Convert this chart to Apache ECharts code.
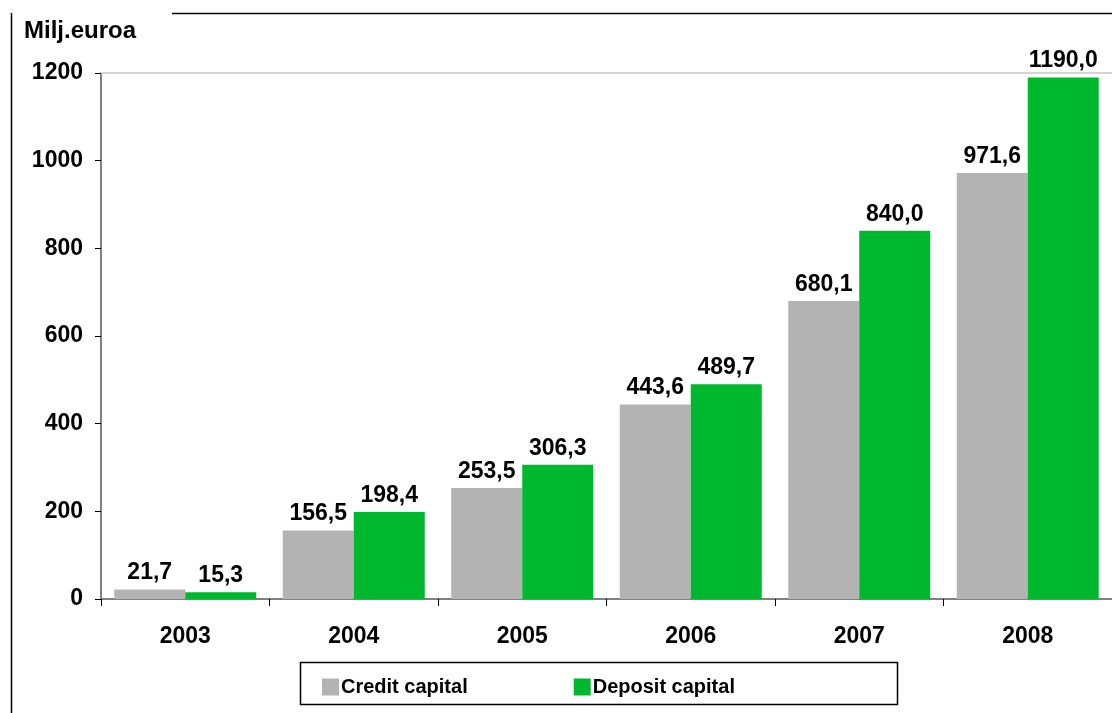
<!DOCTYPE html>
<html>
<head>
<meta charset="utf-8">
<script src="https://cdn.jsdelivr.net/npm/echarts@6/dist/echarts.min.js"></script>
<style>
html,body{margin:0;padding:0;background:#fff;}
#chart{width:1112px;height:713px;}
</style>
</head>
<body>
<div id="chart"></div>
<script>
const categories = ['2003', '2004', '2005', '2006', '2007', '2008'];
const creditCapital = [21.7, 156.5, 253.5, 443.6, 680.1, 971.6];
const depositCapital = [15.3, 198.4, 306.3, 489.7, 840.0, 1190.0];
const seriesNames = ['Credit capital', 'Deposit capital'];
const yTicks = { min: 0, max: 1200, interval: 200 };
const unitLabel = 'Milj.euroa';

const FONT = '"Liberation Sans", Arial, sans-serif';
const fmt = v => v.toFixed(1).replace('.', ',');

const chart = echarts.init(document.getElementById('chart'), null, { renderer: 'canvas' });
chart.setOption({
  animation: false,
  backgroundColor: '#ffffff',
  textStyle: { fontFamily: FONT },
  title: {
    text: unitLabel,
    left: 19, top: 14,
    textStyle: { fontFamily: FONT, fontWeight: 'bold', fontSize: 24, color: '#000' }
  },
  grid: { left: 101, right: 0, top: 73, bottom: 114, containLabel: false },
  legend: {
    left: 317, top: 672,
    itemWidth: 17, itemHeight: 17,
    itemGap: 106,
    icon: 'rect',
    textStyle: { fontFamily: FONT, fontWeight: 'bold', fontSize: 20, color: '#000', padding: [0, 0, 0, -3] },
    data: seriesNames
  },
  xAxis: [{
    type: 'category',
    data: categories,
    position: 'bottom',
    axisLine: { lineStyle: { color: '#808080', width: 2 } },
    axisTick: { show: true, length: 7, lineStyle: { color: '#000', width: 1 } },
    axisLabel: { margin: 26, fontFamily: FONT, fontWeight: 'bold', fontSize: 23, color: '#000' }
  }, {
    type: 'category',
    data: categories,
    position: 'top',
    axisLine: { lineStyle: { color: '#d4d4d4', width: 2 } },
    axisTick: { show: false },
    axisLabel: { show: false }
  }],
  yAxis: {
    type: 'value',
    min: yTicks.min, max: yTicks.max, interval: yTicks.interval,
    axisLine: { show: true, lineStyle: { color: '#808080', width: 2 } },
    axisTick: { show: true, length: 6, lineStyle: { color: '#000', width: 1 } },
    splitLine: { show: false },
    axisLabel: { margin: 18, formatter: v => String(v), fontFamily: FONT, fontWeight: 'bold', fontSize: 23, color: '#000' }
  },
  series: [{
    name: seriesNames[0],
    type: 'bar',
    data: creditCapital,
    barWidth: 71,
    barGap: '0%',
    itemStyle: { color: '#b3b3b3' },
    label: { show: true, position: 'top', distance: 5, formatter: p => fmt(p.value),
      fontFamily: FONT, fontWeight: 'bold', fontSize: 23, color: '#000' }
  }, {
    name: seriesNames[1],
    type: 'bar',
    data: depositCapital,
    barWidth: 71,
    barGap: '0%',
    itemStyle: { color: '#00b82e' },
    label: { show: true, position: 'top', distance: 5, formatter: p => fmt(p.value),
      fontFamily: FONT, fontWeight: 'bold', fontSize: 23, color: '#000' }
  }],
  graphic: [
    { type: 'line', shape: { x1: 172, y1: 13.5, x2: 1112, y2: 13.5 }, style: { stroke: '#000', lineWidth: 1.5 } },
    { type: 'line', shape: { x1: 11.5, y1: 13, x2: 11.5, y2: 713 }, style: { stroke: '#000', lineWidth: 1.5 } },
    { type: 'rect', shape: { x: 300.5, y: 662.5, width: 597, height: 42 }, style: { fill: 'none', stroke: '#000', lineWidth: 1.5 }, z: 100 }
  ]
});
</script>
</body>
</html>
